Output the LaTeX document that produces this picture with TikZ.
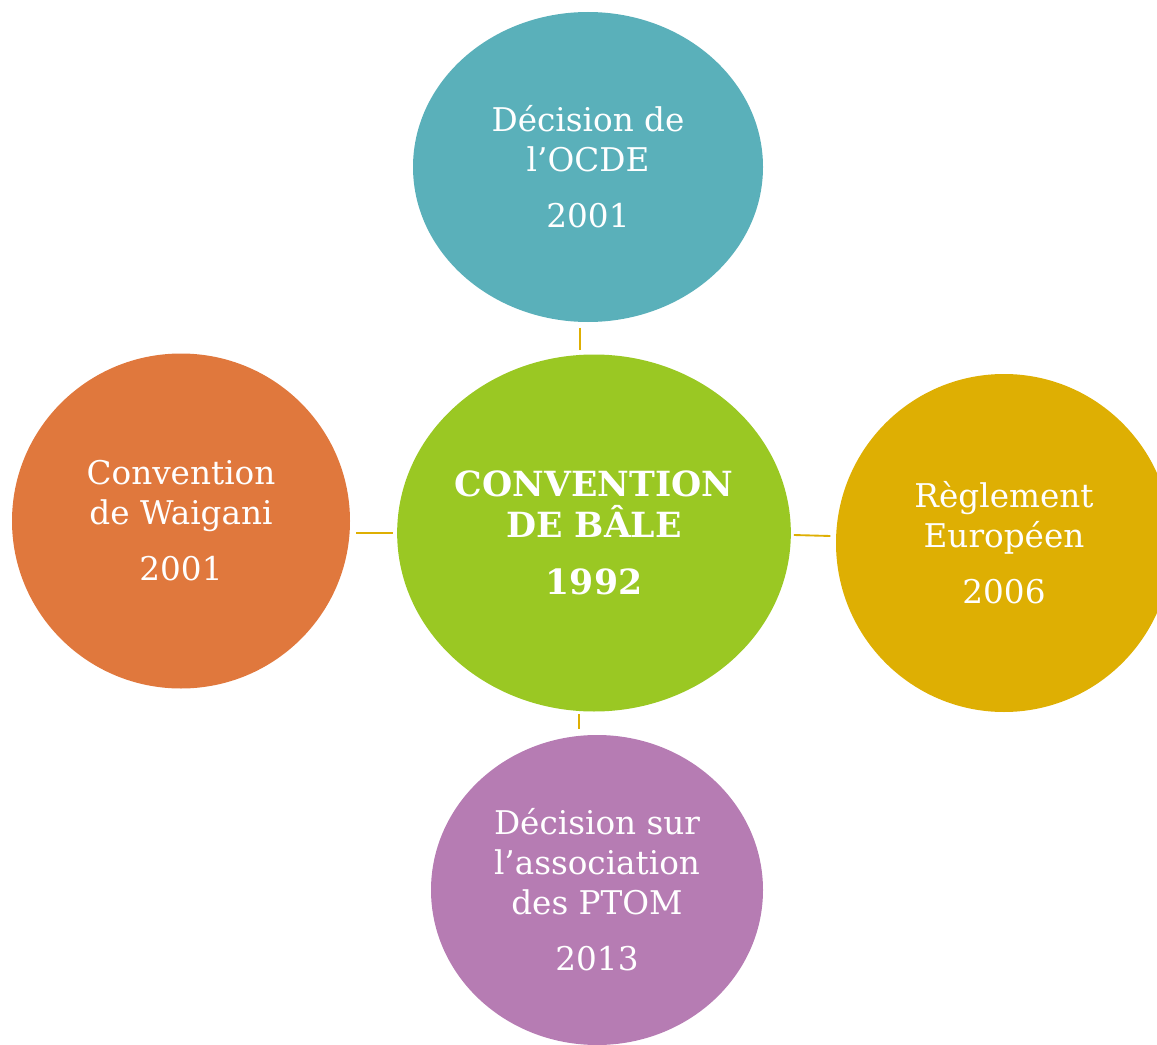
\documentclass[tikz,border=0pt]{standalone}
\usepackage{fontspec}
\setmainfont{DejaVu Serif}
\usetikzlibrary{shapes.geometric}
\definecolor{tealc}{HTML}{5AB0BA}
\definecolor{greenc}{HTML}{9AC823}
\definecolor{orangec}{HTML}{E0783D}
\definecolor{goldc}{HTML}{DEAF03}
\definecolor{purplec}{HTML}{B67CB3}
\begin{document}
\begin{tikzpicture}[
			x=0.75pt, y=-0.75pt,
			bubble/.style={ellipse, inner sep=0pt, text=white, align=center,
				font=\fontsize{24.5}{30}\selectfont},
			link/.style={goldc, line width=1.4pt}
			]
			\useasboundingbox (0,0) rectangle (1157,1045);
			\node[bubble, fill=tealc, minimum width=262.5pt, minimum height=232.5pt] (ocde) at (588,167)
				{Décision de\\l’OCDE\\[12pt]2001};
			\node[bubble, fill=greenc, minimum width=294pt, minimum height=267.75pt,
				font=\fontsize{26}{31}\selectfont\bfseries] (bale) at (594,533)
				{CONVENTION\\DE BÂLE\\[12pt]1992};
			\node[bubble, fill=orangec, minimum width=253.5pt, minimum height=251.25pt] (waigani) at (181,521)
				{Convention\\de Waigani\\[12pt]2001};
			\node[bubble, fill=goldc, minimum width=252pt, minimum height=253.5pt] (reglement) at (1004,543)
				{Règlement\\Européen\\[12pt]2006};
			\node[bubble, fill=purplec, minimum width=249pt, minimum height=232.5pt] (ptom) at (597,890)
				{Décision sur\\l’association\\des PTOM\\[12pt]2013};
			\draw[link] ([yshift=-4pt]ocde.south -| 580,0) -- ([yshift=3pt]bale.north -| 580,0);
			\draw[link] ([xshift=-3pt]bale.west |- 0,533) -- ([xshift=4pt]waigani.east |- 0,533);
			\draw[link] ([xshift=2pt]bale.east |- 0,535) -- ([xshift=-4pt]reglement.west |- 0,536);
			\draw[link] ([yshift=-2pt]bale.south -| 579,0) -- ([yshift=4pt]ptom.north -| 579,0);
		\end{tikzpicture}
\end{document}
